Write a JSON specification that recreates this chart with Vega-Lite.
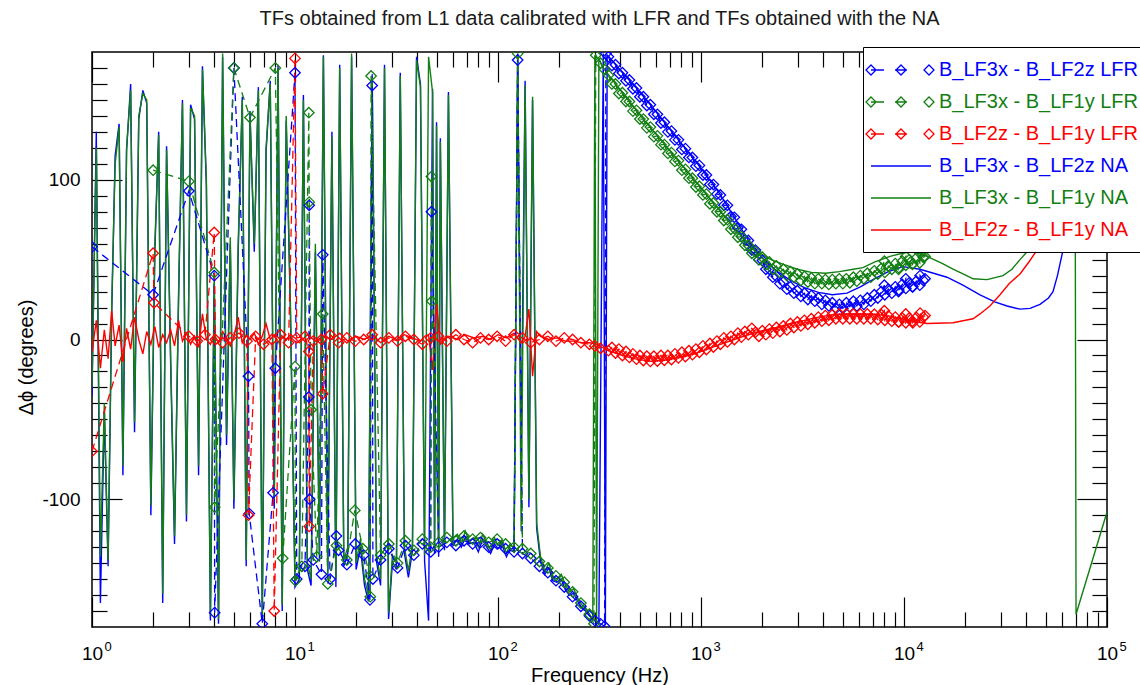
{
"$schema": "https://vega.github.io/schema/vega-lite/v6.json",
"width": 1015,
"height": 575,
"autosize": {"type": "none"},
"padding": {"left": 92, "top": 52, "right": 33, "bottom": 58},
"background": "white",
"title": {"text": "TFs obtained from L1 data calibrated with LFR and TFs obtained with the NA", "font": "Liberation Sans", "fontSize": 20, "fontWeight": "normal", "color": "#1a1a1a", "anchor": "middle", "frame": "group", "offset": 18},
"data": {"values": [
{"s":"bN","f":1,"v":-35},{"s":"bN","f":1.05,"v":130},{"s":"bN","f":1.1,"v":-165},{"s":"bN","f":1.15,"v":-45},{"s":"bN","f":1.2,"v":-142},{"s":"bN","f":1.25,"v":15},{"s":"bN","f":1.3,"v":115},{"s":"bN","f":1.36,"v":135},{"s":"bN","f":1.42,"v":-85},{"s":"bN","f":1.48,"v":118},{"s":"bN","f":1.55,"v":160},{"s":"bN","f":1.62,"v":-58},{"s":"bN","f":1.7,"v":138},{"s":"bN","f":1.78,"v":156},{"s":"bN","f":1.86,"v":148},{"s":"bN","f":1.95,"v":-110},{"s":"bN","f":2.04,"v":55},{"s":"bN","f":2.13,"v":130},{"s":"bN","f":2.23,"v":-165},{"s":"bN","f":2.33,"v":121},{"s":"bN","f":2.44,"v":-15},{"s":"bN","f":2.55,"v":-128},{"s":"bN","f":2.67,"v":25},{"s":"bN","f":2.79,"v":150},{"s":"bN","f":2.92,"v":-114},{"s":"bN","f":3.06,"v":147},{"s":"bN","f":3.2,"v":138},{"s":"bN","f":3.35,"v":-85},{"s":"bN","f":3.5,"v":171},{"s":"bN","f":3.66,"v":96},{"s":"bN","f":3.83,"v":-176},{"s":"bN","f":4,"v":35},{"s":"bN","f":4.2,"v":-178},{"s":"bN","f":4.4,"v":177},{"s":"bN","f":4.6,"v":-66},{"s":"bN","f":4.8,"v":60},{"s":"bN","f":5,"v":-106},{"s":"bN","f":5.25,"v":55},{"s":"bN","f":5.5,"v":152},{"s":"bN","f":5.75,"v":-142},{"s":"bN","f":6,"v":143},{"s":"bN","f":6.3,"v":55},{"s":"bN","f":6.6,"v":158},{"s":"bN","f":6.9,"v":-176},{"s":"bN","f":7.2,"v":117},{"s":"bN","f":7.55,"v":162},{"s":"bN","f":7.9,"v":-106},{"s":"bN","f":8.25,"v":172},{"s":"bN","f":8.65,"v":-170},{"s":"bN","f":9.05,"v":137},{"s":"bN","f":9.5,"v":15},{"s":"bN","f":10,"v":-155},
{"s":"bN","f":10.5,"v":-150},{"s":"bN","f":11,"v":153},{"s":"bN","f":11.5,"v":-144},{"s":"bN","f":12,"v":-154},{"s":"bN","f":12.6,"v":55},{"s":"bN","f":13.2,"v":-139},{"s":"bN","f":13.8,"v":178},{"s":"bN","f":14.5,"v":-149},{"s":"bN","f":15.2,"v":130},{"s":"bN","f":15.9,"v":-155},{"s":"bN","f":16.6,"v":172},{"s":"bN","f":17.4,"v":-142},{"s":"bN","f":18.2,"v":-134},{"s":"bN","f":19,"v":177},{"s":"bN","f":20,"v":-144},{"s":"bN","f":21,"v":-130},{"s":"bN","f":22,"v":-154},{"s":"bN","f":23,"v":-164},{"s":"bN","f":24,"v":166},{"s":"bN","f":25.2,"v":-139},{"s":"bN","f":26.4,"v":-154},{"s":"bN","f":27.6,"v":172},{"s":"bN","f":28.9,"v":-175},{"s":"bN","f":30.2,"v":-139},{"s":"bN","f":31.6,"v":-144},{"s":"bN","f":33,"v":167},{"s":"bN","f":34.6,"v":-134},{"s":"bN","f":36.2,"v":-149},{"s":"bN","f":37.9,"v":-132},{"s":"bN","f":39.7,"v":177},{"s":"bN","f":41.5,"v":160},{"s":"bN","f":43.5,"v":-139},{"s":"bN","f":45.5,"v":-176},{"s":"bN","f":47.6,"v":157},{"s":"bN","f":48.7,"v":-134},{"s":"bN","f":49.8,"v":136},{"s":"bN","f":51,"v":-136},{"s":"bN","f":52,"v":126},{"s":"bN","f":54.5,"v":-132},{"s":"bN","f":57,"v":155},{"s":"bN","f":60,"v":-129},
{"s":"bN","f":63,"v":-125},{"s":"bN","f":66,"v":-130},{"s":"bN","f":69,"v":-124},{"s":"bN","f":72,"v":-128},{"s":"bN","f":76,"v":-127},{"s":"bN","f":80,"v":-133},{"s":"bN","f":84,"v":-125},{"s":"bN","f":88,"v":-130},{"s":"bN","f":92,"v":-134},{"s":"bN","f":96,"v":-128},{"s":"bN","f":100,"v":-131},{"s":"bN","f":105,"v":-129},{"s":"bN","f":110,"v":-136},{"s":"bN","f":115,"v":-131},{"s":"bN","f":120,"v":-133},{"s":"bN","f":125,"v":177},{"s":"bN","f":130,"v":-72},{"s":"bN","f":136,"v":162},{"s":"bN","f":142,"v":-105},{"s":"bN","f":148,"v":150},{"s":"bN","f":155,"v":-118},{"s":"bN","f":162,"v":-139},{"s":"bN","f":170,"v":-147},{"s":"bN","f":178,"v":-143},{"s":"bN","f":186,"v":-151},{"s":"bN","f":195,"v":-152},{"s":"bN","f":205,"v":-150},{"s":"bN","f":215,"v":-157},{"s":"bN","f":225,"v":-160},{"s":"bN","f":236,"v":-159},{"s":"bN","f":247,"v":-164},{"s":"bN","f":258,"v":-168},{"s":"bN","f":270,"v":-170},{"s":"bN","f":283,"v":-173},{"s":"bN","f":293,"v":-175},{"s":"bN","f":300,"v":-176},{"s":"bN","f":314,"v":-178},{"s":"bN","f":330,"v":179},{"s":"bN","f":338,"v":-179},{"s":"bN","f":345,"v":178},
{"s":"bN","f":352,"v":177},{"s":"bN","f":400,"v":168.5},{"s":"bN","f":480,"v":157.5},{"s":"bN","f":563,"v":147},{"s":"bN","f":660,"v":136},{"s":"bN","f":774,"v":125},{"s":"bN","f":907,"v":114},{"s":"bN","f":1063,"v":103},{"s":"bN","f":1246,"v":90.5},{"s":"bN","f":1460,"v":76.5},{"s":"bN","f":1711,"v":62},{"s":"bN","f":2006,"v":51},{"s":"bN","f":2351,"v":43},{"s":"bN","f":2755,"v":37},{"s":"bN","f":3229,"v":32.5},{"s":"bN","f":3785,"v":29.5},{"s":"bN","f":4436,"v":28},{"s":"bN","f":5238,"v":29},{"s":"bN","f":6093,"v":33},{"s":"bN","f":7141,"v":38},{"s":"bN","f":8370,"v":42.5},{"s":"bN","f":9886,"v":45.6},{"s":"bN","f":11990,"v":44},{"s":"bN","f":16283,"v":39},{"s":"bN","f":19500,"v":34},{"s":"bN","f":23679,"v":28},{"s":"bN","f":28000,"v":23.5},{"s":"bN","f":32175,"v":21},{"s":"bN","f":37273,"v":19},{"s":"bN","f":41760,"v":19.5},{"s":"bN","f":46774,"v":22},{"s":"bN","f":51500,"v":26},{"s":"bN","f":54200,"v":30},{"s":"bN","f":57000,"v":40},{"s":"bN","f":60730,"v":56},{"s":"bN","f":66000,"v":85},{"s":"bN","f":73600,"v":120},{"s":"bN","f":85000,"v":155},{"s":"bN","f":100000,"v":175},
{"s":"gN","f":1,"v":-30},{"s":"gN","f":1.05,"v":120},{"s":"gN","f":1.1,"v":-136},{"s":"gN","f":1.15,"v":-40},{"s":"gN","f":1.2,"v":-138},{"s":"gN","f":1.25,"v":20},{"s":"gN","f":1.3,"v":110},{"s":"gN","f":1.36,"v":133},{"s":"gN","f":1.42,"v":-79},{"s":"gN","f":1.48,"v":120},{"s":"gN","f":1.55,"v":156},{"s":"gN","f":1.62,"v":-52},{"s":"gN","f":1.7,"v":140},{"s":"gN","f":1.78,"v":154},{"s":"gN","f":1.86,"v":150},{"s":"gN","f":1.95,"v":-104},{"s":"gN","f":2.04,"v":60},{"s":"gN","f":2.13,"v":128},{"s":"gN","f":2.23,"v":-159},{"s":"gN","f":2.33,"v":119},{"s":"gN","f":2.44,"v":-10},{"s":"gN","f":2.55,"v":-123},{"s":"gN","f":2.67,"v":30},{"s":"gN","f":2.79,"v":148},{"s":"gN","f":2.92,"v":-110},{"s":"gN","f":3.06,"v":145},{"s":"gN","f":3.2,"v":140},{"s":"gN","f":3.35,"v":-79},{"s":"gN","f":3.5,"v":169},{"s":"gN","f":3.66,"v":100},{"s":"gN","f":3.83,"v":-173},{"s":"gN","f":4,"v":40},{"s":"gN","f":4.2,"v":-175},{"s":"gN","f":4.4,"v":179},{"s":"gN","f":4.6,"v":-60},{"s":"gN","f":4.8,"v":64},{"s":"gN","f":5,"v":-100},{"s":"gN","f":5.25,"v":60},{"s":"gN","f":5.5,"v":150},{"s":"gN","f":5.75,"v":-138},{"s":"gN","f":6,"v":140},{"s":"gN","f":6.3,"v":60},{"s":"gN","f":6.6,"v":156},{"s":"gN","f":6.9,"v":-173},{"s":"gN","f":7.2,"v":120},{"s":"gN","f":7.55,"v":160},{"s":"gN","f":7.9,"v":-100},{"s":"gN","f":8.25,"v":170},{"s":"gN","f":8.65,"v":-166},{"s":"gN","f":9.05,"v":140},{"s":"gN","f":9.5,"v":20},{"s":"gN","f":10,"v":-150},
{"s":"gN","f":10.5,"v":-145},{"s":"gN","f":11,"v":150},{"s":"gN","f":11.5,"v":-140},{"s":"gN","f":12,"v":-150},{"s":"gN","f":12.6,"v":60},{"s":"gN","f":13.2,"v":-135},{"s":"gN","f":13.8,"v":177},{"s":"gN","f":14.5,"v":-145},{"s":"gN","f":15.2,"v":127},{"s":"gN","f":15.9,"v":-150},{"s":"gN","f":16.6,"v":170},{"s":"gN","f":17.4,"v":-138},{"s":"gN","f":18.2,"v":-130},{"s":"gN","f":19,"v":179},{"s":"gN","f":20,"v":-140},{"s":"gN","f":21,"v":-125},{"s":"gN","f":22,"v":-150},{"s":"gN","f":23,"v":-160},{"s":"gN","f":24,"v":164},{"s":"gN","f":25.2,"v":-135},{"s":"gN","f":26.4,"v":-150},{"s":"gN","f":27.6,"v":170},{"s":"gN","f":28.9,"v":-171},{"s":"gN","f":30.2,"v":-135},{"s":"gN","f":31.6,"v":-140},{"s":"gN","f":33,"v":165},{"s":"gN","f":34.6,"v":-130},{"s":"gN","f":36.2,"v":-145},{"s":"gN","f":37.9,"v":-128},{"s":"gN","f":39.7,"v":175},{"s":"gN","f":41.5,"v":158},{"s":"gN","f":43.5,"v":-135},{"s":"gN","f":45.5,"v":177},{"s":"gN","f":47.6,"v":155},{"s":"gN","f":48.7,"v":-130},{"s":"gN","f":49.8,"v":134},{"s":"gN","f":51,"v":-132},{"s":"gN","f":52,"v":124},{"s":"gN","f":54.5,"v":-128},{"s":"gN","f":57,"v":153},{"s":"gN","f":60,"v":-125},
{"s":"gN","f":63,"v":-122},{"s":"gN","f":66,"v":-128},{"s":"gN","f":69,"v":-120},{"s":"gN","f":72,"v":-126},{"s":"gN","f":76,"v":-124},{"s":"gN","f":80,"v":-130},{"s":"gN","f":84,"v":-122},{"s":"gN","f":88,"v":-127},{"s":"gN","f":92,"v":-132},{"s":"gN","f":96,"v":-124},{"s":"gN","f":100,"v":-129},{"s":"gN","f":105,"v":-126},{"s":"gN","f":110,"v":-134},{"s":"gN","f":115,"v":-128},{"s":"gN","f":120,"v":-131},{"s":"gN","f":125,"v":179},{"s":"gN","f":130,"v":-120},{"s":"gN","f":136,"v":159},{"s":"gN","f":142,"v":-100},{"s":"gN","f":148,"v":152},{"s":"gN","f":155,"v":-115},{"s":"gN","f":162,"v":-136},{"s":"gN","f":170,"v":-145},{"s":"gN","f":178,"v":-140},{"s":"gN","f":186,"v":-148},{"s":"gN","f":195,"v":-150},{"s":"gN","f":205,"v":-147},{"s":"gN","f":215,"v":-154},{"s":"gN","f":225,"v":-158},{"s":"gN","f":236,"v":-156},{"s":"gN","f":247,"v":-162},{"s":"gN","f":258,"v":-166},{"s":"gN","f":270,"v":-168},{"s":"gN","f":283,"v":-172},{"s":"gN","f":293,"v":-176},{"s":"gN","f":300,"v":178},{"s":"gN","f":306,"v":-178},{"s":"gN","f":314,"v":176},{"s":"gN","f":330,"v":170},
{"s":"gN","f":379,"v":160},{"s":"gN","f":444,"v":149},{"s":"gN","f":520,"v":138},{"s":"gN","f":610,"v":127.5},{"s":"gN","f":715,"v":117},{"s":"gN","f":838,"v":106.5},{"s":"gN","f":982,"v":96},{"s":"gN","f":1151,"v":85.5},{"s":"gN","f":1349,"v":75},{"s":"gN","f":1581,"v":64.5},{"s":"gN","f":1853,"v":56},{"s":"gN","f":2171,"v":50.5},{"s":"gN","f":2545,"v":47},{"s":"gN","f":2983,"v":44},{"s":"gN","f":3496,"v":42},{"s":"gN","f":4097,"v":41.5},{"s":"gN","f":4802,"v":42.5},{"s":"gN","f":5628,"v":44},{"s":"gN","f":6281,"v":45},{"s":"gN","f":7141,"v":48.5},{"s":"gN","f":8531,"v":52},{"s":"gN","f":9809,"v":54},{"s":"gN","f":11075,"v":55},{"s":"gN","f":12985,"v":52},{"s":"gN","f":15500,"v":47.5},{"s":"gN","f":17432,"v":44},{"s":"gN","f":20000,"v":40.5},{"s":"gN","f":21876,"v":38},{"s":"gN","f":25633,"v":37.5},{"s":"gN","f":30748,"v":40},{"s":"gN","f":34000,"v":44},{"s":"gN","f":37273,"v":50},{"s":"gN","f":41760,"v":57},{"s":"gN","f":48000,"v":80},{"s":"gN","f":57000,"v":112},{"s":"gN","f":64000,"v":145},{"s":"gN","f":69500,"v":178},{"s":"gN","f":70400,"v":-172},{"s":"gN","f":100000,"v":-108},
{"s":"rN","f":1,"v":-8},{"s":"rN","f":1.05,"v":12},{"s":"rN","f":1.1,"v":-18},{"s":"rN","f":1.15,"v":6},{"s":"rN","f":1.2,"v":-12},{"s":"rN","f":1.25,"v":18},{"s":"rN","f":1.3,"v":-4},{"s":"rN","f":1.36,"v":9},{"s":"rN","f":1.42,"v":-14},{"s":"rN","f":1.48,"v":7},{"s":"rN","f":1.55,"v":-6},{"s":"rN","f":1.62,"v":14},{"s":"rN","f":1.7,"v":0},{"s":"rN","f":1.78,"v":-9},{"s":"rN","f":1.86,"v":5},{"s":"rN","f":1.95,"v":-3},{"s":"rN","f":2.04,"v":8},{"s":"rN","f":2.13,"v":-5},{"s":"rN","f":2.23,"v":3},{"s":"rN","f":2.33,"v":-2},{"s":"rN","f":2.44,"v":6},{"s":"rN","f":2.55,"v":-4},{"s":"rN","f":2.67,"v":12},{"s":"rN","f":2.79,"v":-1},{"s":"rN","f":2.92,"v":4},{"s":"rN","f":3.06,"v":-3},{"s":"rN","f":3.2,"v":2},{"s":"rN","f":3.35,"v":-5},{"s":"rN","f":3.5,"v":16},{"s":"rN","f":3.66,"v":0},{"s":"rN","f":3.83,"v":-3},{"s":"rN","f":4,"v":3},{"s":"rN","f":4.2,"v":-2},{"s":"rN","f":4.4,"v":5},{"s":"rN","f":4.6,"v":1},{"s":"rN","f":4.8,"v":-4},{"s":"rN","f":5,"v":2},{"s":"rN","f":5.25,"v":14},{"s":"rN","f":5.5,"v":-2},{"s":"rN","f":5.75,"v":3},{"s":"rN","f":6,"v":0},{"s":"rN","f":6.3,"v":4},{"s":"rN","f":6.6,"v":-3},{"s":"rN","f":6.9,"v":2},{"s":"rN","f":7.2,"v":10},{"s":"rN","f":7.55,"v":0},{"s":"rN","f":7.9,"v":3},{"s":"rN","f":8.25,"v":-2},{"s":"rN","f":8.65,"v":2},{"s":"rN","f":9.05,"v":0},{"s":"rN","f":9.5,"v":3},{"s":"rN","f":10,"v":1},
{"s":"rN","f":10.5,"v":-2},{"s":"rN","f":11.5,"v":3},{"s":"rN","f":12.6,"v":-1},{"s":"rN","f":13.8,"v":2},{"s":"rN","f":15.2,"v":0},{"s":"rN","f":16.6,"v":4},{"s":"rN","f":18.2,"v":-1},{"s":"rN","f":20,"v":2},{"s":"rN","f":22,"v":0},{"s":"rN","f":24,"v":3},{"s":"rN","f":26.4,"v":-2},{"s":"rN","f":28.9,"v":2},{"s":"rN","f":31.6,"v":0},{"s":"rN","f":34.6,"v":3},{"s":"rN","f":37.9,"v":1},{"s":"rN","f":41.5,"v":-1},{"s":"rN","f":43.5,"v":2},{"s":"rN","f":45.5,"v":3},{"s":"rN","f":47.6,"v":-19},{"s":"rN","f":49.8,"v":22},{"s":"rN","f":52,"v":-3},{"s":"rN","f":57,"v":2},{"s":"rN","f":63,"v":0},{"s":"rN","f":69,"v":3},{"s":"rN","f":76,"v":1},{"s":"rN","f":84,"v":2},{"s":"rN","f":92,"v":0},{"s":"rN","f":100,"v":3},{"s":"rN","f":110,"v":1},{"s":"rN","f":120,"v":4},{"s":"rN","f":130,"v":-2},{"s":"rN","f":136,"v":2},{"s":"rN","f":142,"v":19},{"s":"rN","f":148,"v":-23},{"s":"rN","f":155,"v":5},{"s":"rN","f":162,"v":2},{"s":"rN","f":178,"v":0},{"s":"rN","f":195,"v":1},{"s":"rN","f":215,"v":-1},{"s":"rN","f":236,"v":-1},{"s":"rN","f":258,"v":-2},{"s":"rN","f":283,"v":-2},
{"s":"rN","f":300,"v":-2.5},{"s":"rN","f":350,"v":-7},{"s":"rN","f":410,"v":-10},{"s":"rN","f":481,"v":-12.3},{"s":"rN","f":563,"v":-13.7},{"s":"rN","f":660,"v":-13},{"s":"rN","f":774,"v":-11.5},{"s":"rN","f":907,"v":-9.5},{"s":"rN","f":1063,"v":-6.3},{"s":"rN","f":1246,"v":-3},{"s":"rN","f":1460,"v":0},{"s":"rN","f":1711,"v":3},{"s":"rN","f":2006,"v":5.5},{"s":"rN","f":2351,"v":7.5},{"s":"rN","f":2755,"v":10},{"s":"rN","f":3229,"v":12},{"s":"rN","f":3785,"v":14},{"s":"rN","f":4436,"v":15.5},{"s":"rN","f":5199,"v":16},{"s":"rN","f":6093,"v":16},{"s":"rN","f":7141,"v":15.8},{"s":"rN","f":8370,"v":14.8},{"s":"rN","f":9809,"v":13},{"s":"rN","f":11496,"v":11},{"s":"rN","f":12985,"v":10},{"s":"rN","f":17432,"v":10.5},{"s":"rN","f":21876,"v":13},{"s":"rN","f":23679,"v":16},{"s":"rN","f":26500,"v":21},{"s":"rN","f":29717,"v":28},{"s":"rN","f":33000,"v":35},{"s":"rN","f":37273,"v":41},{"s":"rN","f":41500,"v":49},{"s":"rN","f":45204,"v":56},{"s":"rN","f":50640,"v":64},{"s":"rN","f":58000,"v":85},{"s":"rN","f":73600,"v":120},{"s":"rN","f":100000,"v":150},
{"s":"bL","f":1,"v":58},{"s":"bL","f":2,"v":28},{"s":"bL","f":3,"v":93},{"s":"bL","f":4,"v":40},{"s":"bL","f":4.02,"v":-171},{"s":"bL","f":5,"v":170},{"s":"bL","f":5.9,"v":-23},{"s":"bL","f":5.95,"v":-109},{"s":"bL","f":6.9,"v":-178},{"s":"bL","f":7.8,"v":-96},{"s":"bL","f":8,"v":-18},{"s":"bL","f":10,"v":167},{"s":"bL","f":10.2,"v":-150},{"s":"bL","f":11.2,"v":-142},{"s":"bL","f":11.7,"v":-36},{"s":"bL","f":11.75,"v":84},{"s":"bL","f":11.8,"v":-100},{"s":"bL","f":12.3,"v":-138},{"s":"bL","f":13.5,"v":-147},{"s":"bL","f":13.7,"v":53},{"s":"bL","f":14.9,"v":-150},{"s":"bL","f":16,"v":-123},{"s":"bL","f":16.4,"v":-132},{"s":"bL","f":18,"v":-141},{"s":"bL","f":19.8,"v":-128},{"s":"bL","f":21.8,"v":-135},{"s":"bL","f":23.4,"v":-163},{"s":"bL","f":24,"v":159},{"s":"bL","f":24.2,"v":-150},{"s":"bL","f":26.4,"v":-138},{"s":"bL","f":29,"v":-131},{"s":"bL","f":32,"v":-143},{"s":"bL","f":35,"v":-129},{"s":"bL","f":38.5,"v":-135},{"s":"bL","f":42.4,"v":-128},{"s":"bL","f":46.6,"v":-133},{"s":"bL","f":47,"v":80},{"s":"bL","f":51,"v":-130},{"s":"bL","f":56,"v":-127},{"s":"bL","f":62,"v":-129},{"s":"bL","f":68,"v":-126},{"s":"bL","f":75,"v":-128},{"s":"bL","f":82,"v":-127},{"s":"bL","f":90,"v":-130},{"s":"bL","f":99,"v":-128},{"s":"bL","f":109,"v":-131},{"s":"bL","f":120,"v":-133},{"s":"bL","f":125,"v":175},{"s":"bL","f":132,"v":-134},{"s":"bL","f":145,"v":-137},{"s":"bL","f":160,"v":-142},{"s":"bL","f":176,"v":-146},{"s":"bL","f":193,"v":-151},{"s":"bL","f":212,"v":-155},{"s":"bL","f":233,"v":-161},{"s":"bL","f":256,"v":-167},{"s":"bL","f":282,"v":-173},{"s":"bL","f":300,"v":-176},{"s":"bL","f":320,"v":-178},{"s":"bL","f":335,"v":-179.5},{"s":"bL","f":340,"v":179},
{"s":"bL","f":350,"v":177},{"s":"bL","f":379,"v":172},{"s":"bL","f":410,"v":167},{"s":"bL","f":444,"v":162.5},{"s":"bL","f":481,"v":157.5},{"s":"bL","f":520,"v":152},{"s":"bL","f":563,"v":147},{"s":"bL","f":610,"v":141},{"s":"bL","f":660,"v":136},{"s":"bL","f":715,"v":130.5},{"s":"bL","f":774,"v":125},{"s":"bL","f":838,"v":119.5},{"s":"bL","f":907,"v":114},{"s":"bL","f":982,"v":109},{"s":"bL","f":1063,"v":103},{"s":"bL","f":1151,"v":97},{"s":"bL","f":1246,"v":90.5},{"s":"bL","f":1349,"v":84},{"s":"bL","f":1460,"v":76.5},{"s":"bL","f":1581,"v":69},{"s":"bL","f":1711,"v":62},{"s":"bL","f":1853,"v":56},{"s":"bL","f":2006,"v":49.5},{"s":"bL","f":2171,"v":44},{"s":"bL","f":2351,"v":39.5},{"s":"bL","f":2545,"v":36},{"s":"bL","f":2755,"v":33},{"s":"bL","f":2983,"v":30.5},{"s":"bL","f":3229,"v":29},{"s":"bL","f":3496,"v":27.5},{"s":"bL","f":3785,"v":26},{"s":"bL","f":4097,"v":24.5},{"s":"bL","f":4436,"v":23},{"s":"bL","f":4802,"v":22},{"s":"bL","f":5199,"v":23},{"s":"bL","f":5628,"v":24},{"s":"bL","f":6093,"v":24.5},{"s":"bL","f":6597,"v":26},{"s":"bL","f":7141,"v":28},{"s":"bL","f":7731,"v":30},{"s":"bL","f":8000,"v":34},{"s":"bL","f":8370,"v":31.5},{"s":"bL","f":9061,"v":33},{"s":"bL","f":9400,"v":30},{"s":"bL","f":9809,"v":34.5},{"s":"bL","f":10200,"v":38},{"s":"bL","f":10619,"v":35.5},{"s":"bL","f":11000,"v":33},{"s":"bL","f":11496,"v":36.5},{"s":"bL","f":12000,"v":40},{"s":"bL","f":12446,"v":37},{"s":"bL","f":12700,"v":38},
{"s":"bL","f":364,"v":171.5},{"s":"bL","f":394,"v":166.5},{"s":"bL","f":427,"v":162},{"s":"bL","f":462,"v":157},{"s":"bL","f":500,"v":152},{"s":"bL","f":541,"v":146.5},{"s":"bL","f":586,"v":141},{"s":"bL","f":635,"v":135.5},{"s":"bL","f":687,"v":130},{"s":"bL","f":744,"v":125},{"s":"bL","f":805,"v":119},{"s":"bL","f":872,"v":114},{"s":"bL","f":944,"v":108.5},{"s":"bL","f":1022,"v":103},{"s":"bL","f":1106,"v":97},{"s":"bL","f":1198,"v":91},{"s":"bL","f":1296,"v":84},{"s":"bL","f":1404,"v":77},{"s":"bL","f":1519,"v":70},{"s":"bL","f":1645,"v":62.5},{"s":"bL","f":1780,"v":56},{"s":"bL","f":1928,"v":50},{"s":"bL","f":2087,"v":44},{"s":"bL","f":2259,"v":39},{"s":"bL","f":2446,"v":35},{"s":"bL","f":2648,"v":31.5},{"s":"bL","f":2867,"v":29},{"s":"bL","f":3104,"v":27},{"s":"bL","f":3360,"v":25},{"s":"bL","f":3637,"v":24},{"s":"bL","f":3938,"v":22},{"s":"bL","f":4263,"v":21},{"s":"bL","f":4616,"v":19.5},{"s":"bL","f":4997,"v":19.5},{"s":"bL","f":5410,"v":20.5},{"s":"bL","f":5856,"v":21},{"s":"bL","f":6340,"v":22},{"s":"bL","f":6864,"v":24},{"s":"bL","f":7430,"v":26},{"s":"bL","f":8044,"v":28},{"s":"bL","f":8709,"v":29},{"s":"bL","f":9428,"v":31},{"s":"bL","f":10206,"v":32},{"s":"bL","f":11049,"v":33},{"s":"bL","f":11962,"v":34},
{"s":"gL","f":2,"v":106},{"s":"gL","f":3,"v":99},{"s":"gL","f":4,"v":42},{"s":"gL","f":4.02,"v":-105},{"s":"gL","f":5,"v":170},{"s":"gL","f":6,"v":139},{"s":"gL","f":8,"v":170},{"s":"gL","f":8.7,"v":-137},{"s":"gL","f":10,"v":-17},{"s":"gL","f":10.05,"v":-151},{"s":"gL","f":10.8,"v":-142},{"s":"gL","f":11.7,"v":142},{"s":"gL","f":11.75,"v":86},{"s":"gL","f":12,"v":-44},{"s":"gL","f":12.8,"v":-136},{"s":"gL","f":13.7,"v":16},{"s":"gL","f":14.5,"v":-153},{"s":"gL","f":16,"v":-129},{"s":"gL","f":18,"v":-138},{"s":"gL","f":19.7,"v":-107},{"s":"gL","f":21.6,"v":-131},{"s":"gL","f":23.4,"v":-148},{"s":"gL","f":23.5,"v":-161},{"s":"gL","f":23.7,"v":165},{"s":"gL","f":26.4,"v":-135},{"s":"gL","f":29,"v":-128},{"s":"gL","f":32,"v":-140},{"s":"gL","f":35,"v":-126},{"s":"gL","f":38.5,"v":-132},{"s":"gL","f":42.4,"v":-125},{"s":"gL","f":46.6,"v":-130},{"s":"gL","f":47,"v":102},{"s":"gL","f":47.2,"v":24},{"s":"gL","f":51,"v":-127},{"s":"gL","f":56,"v":-124},{"s":"gL","f":62,"v":-126},{"s":"gL","f":68,"v":-123},{"s":"gL","f":75,"v":-125},{"s":"gL","f":82,"v":-124},{"s":"gL","f":90,"v":-127},{"s":"gL","f":99,"v":-125},{"s":"gL","f":109,"v":-128},{"s":"gL","f":120,"v":-130},{"s":"gL","f":125,"v":179},{"s":"gL","f":132,"v":-131},{"s":"gL","f":145,"v":-134},{"s":"gL","f":160,"v":-139},{"s":"gL","f":176,"v":-143},{"s":"gL","f":193,"v":-148},{"s":"gL","f":212,"v":-152},{"s":"gL","f":233,"v":-158},{"s":"gL","f":256,"v":-165},{"s":"gL","f":282,"v":-172},{"s":"gL","f":297,"v":-178},{"s":"gL","f":303,"v":178},{"s":"gL","f":320,"v":173},{"s":"gL","f":335,"v":169},
{"s":"gL","f":350,"v":165.5},{"s":"gL","f":379,"v":160},{"s":"gL","f":410,"v":154.5},{"s":"gL","f":444,"v":149},{"s":"gL","f":481,"v":143.5},{"s":"gL","f":520,"v":138},{"s":"gL","f":563,"v":133},{"s":"gL","f":610,"v":127.5},{"s":"gL","f":660,"v":122},{"s":"gL","f":715,"v":117},{"s":"gL","f":774,"v":112},{"s":"gL","f":838,"v":106.5},{"s":"gL","f":907,"v":101},{"s":"gL","f":982,"v":96},{"s":"gL","f":1063,"v":91},{"s":"gL","f":1151,"v":85.5},{"s":"gL","f":1246,"v":80},{"s":"gL","f":1349,"v":75},{"s":"gL","f":1460,"v":69.5},{"s":"gL","f":1581,"v":64.5},{"s":"gL","f":1711,"v":59},{"s":"gL","f":1853,"v":55},{"s":"gL","f":2006,"v":51.5},{"s":"gL","f":2171,"v":48.5},{"s":"gL","f":2351,"v":46},{"s":"gL","f":2545,"v":44},{"s":"gL","f":2755,"v":42.5},{"s":"gL","f":2983,"v":41},{"s":"gL","f":3229,"v":39.5},{"s":"gL","f":3496,"v":38.5},{"s":"gL","f":3785,"v":38},{"s":"gL","f":4097,"v":37.5},{"s":"gL","f":4436,"v":37.5},{"s":"gL","f":4802,"v":38},{"s":"gL","f":5199,"v":38},{"s":"gL","f":5628,"v":39},{"s":"gL","f":6093,"v":40},{"s":"gL","f":6597,"v":41.5},{"s":"gL","f":7141,"v":43},{"s":"gL","f":7731,"v":44.5},{"s":"gL","f":8000,"v":49},{"s":"gL","f":8370,"v":46},{"s":"gL","f":9061,"v":47.5},{"s":"gL","f":9400,"v":44},{"s":"gL","f":9809,"v":49},{"s":"gL","f":10200,"v":52},{"s":"gL","f":10619,"v":50},{"s":"gL","f":11000,"v":47},{"s":"gL","f":11496,"v":51},{"s":"gL","f":12000,"v":54},{"s":"gL","f":12446,"v":51.5},{"s":"gL","f":12700,"v":52},
{"s":"gL","f":364,"v":160},{"s":"gL","f":394,"v":154},{"s":"gL","f":427,"v":149},{"s":"gL","f":462,"v":143},{"s":"gL","f":500,"v":138},{"s":"gL","f":541,"v":132.5},{"s":"gL","f":586,"v":127},{"s":"gL","f":635,"v":122},{"s":"gL","f":687,"v":116.5},{"s":"gL","f":744,"v":111.5},{"s":"gL","f":805,"v":106},{"s":"gL","f":872,"v":101},{"s":"gL","f":944,"v":95.5},{"s":"gL","f":1022,"v":90.5},{"s":"gL","f":1106,"v":85},{"s":"gL","f":1198,"v":80},{"s":"gL","f":1296,"v":74.5},{"s":"gL","f":1404,"v":69},{"s":"gL","f":1519,"v":64},{"s":"gL","f":1645,"v":59},{"s":"gL","f":1780,"v":54},{"s":"gL","f":1928,"v":50},{"s":"gL","f":2087,"v":47},{"s":"gL","f":2259,"v":44},{"s":"gL","f":2446,"v":42},{"s":"gL","f":2648,"v":40},{"s":"gL","f":2867,"v":39},{"s":"gL","f":3104,"v":37},{"s":"gL","f":3360,"v":36},{"s":"gL","f":3637,"v":35},{"s":"gL","f":3938,"v":35},{"s":"gL","f":4263,"v":34.5},{"s":"gL","f":4616,"v":35},{"s":"gL","f":4997,"v":35},{"s":"gL","f":5410,"v":35.5},{"s":"gL","f":5856,"v":36.5},{"s":"gL","f":6340,"v":38},{"s":"gL","f":6864,"v":39},{"s":"gL","f":7430,"v":41},{"s":"gL","f":8044,"v":42},{"s":"gL","f":8709,"v":44},{"s":"gL","f":9428,"v":45},{"s":"gL","f":10206,"v":46.5},{"s":"gL","f":11049,"v":47.5},{"s":"gL","f":11962,"v":48},
{"s":"rL","f":1,"v":-70},{"s":"rL","f":2,"v":54},{"s":"rL","f":2.02,"v":23},{"s":"rL","f":3,"v":2},{"s":"rL","f":3.3,"v":-1},{"s":"rL","f":3.6,"v":3},{"s":"rL","f":4,"v":67},{"s":"rL","f":4.05,"v":0},{"s":"rL","f":4.4,"v":-2},{"s":"rL","f":4.8,"v":1},{"s":"rL","f":5.3,"v":4},{"s":"rL","f":5.8,"v":-1},{"s":"rL","f":5.9,"v":-110},{"s":"rL","f":6.4,"v":2},{"s":"rL","f":7,"v":-3},{"s":"rL","f":7.7,"v":0},{"s":"rL","f":7.9,"v":-170},{"s":"rL","f":8.5,"v":3},{"s":"rL","f":9.3,"v":-2},{"s":"rL","f":10,"v":176},{"s":"rL","f":10.2,"v":1},{"s":"rL","f":11.2,"v":2},{"s":"rL","f":11.7,"v":-7.5},{"s":"rL","f":11.75,"v":-117},{"s":"rL","f":12.3,"v":-1},{"s":"rL","f":13.5,"v":0},{"s":"rL","f":13.7,"v":-34},{"s":"rL","f":14.9,"v":3},{"s":"rL","f":16.4,"v":-2},{"s":"rL","f":18,"v":1},{"s":"rL","f":19.8,"v":-1},{"s":"rL","f":21.8,"v":0},{"s":"rL","f":24,"v":3},{"s":"rL","f":26.4,"v":-2},{"s":"rL","f":29,"v":1},{"s":"rL","f":32,"v":-1},{"s":"rL","f":35,"v":2},{"s":"rL","f":38.5,"v":0},{"s":"rL","f":42.4,"v":-3},{"s":"rL","f":46.6,"v":1},{"s":"rL","f":51,"v":2},{"s":"rL","f":56,"v":-1},{"s":"rL","f":62,"v":3},{"s":"rL","f":68,"v":0},{"s":"rL","f":75,"v":-2},{"s":"rL","f":82,"v":1},{"s":"rL","f":90,"v":0},{"s":"rL","f":99,"v":2},{"s":"rL","f":109,"v":-1},{"s":"rL","f":120,"v":3},{"s":"rL","f":132,"v":1},{"s":"rL","f":145,"v":-2},{"s":"rL","f":160,"v":0},{"s":"rL","f":176,"v":2},{"s":"rL","f":193,"v":-1},{"s":"rL","f":212,"v":1},{"s":"rL","f":233,"v":0},{"s":"rL","f":256,"v":-2},{"s":"rL","f":282,"v":-3},{"s":"rL","f":300,"v":-4},{"s":"rL","f":320,"v":-5.5},
{"s":"rL","f":350,"v":-7},{"s":"rL","f":379,"v":-8.5},{"s":"rL","f":410,"v":-10},{"s":"rL","f":444,"v":-11.2},{"s":"rL","f":481,"v":-12.3},{"s":"rL","f":520,"v":-13.2},{"s":"rL","f":563,"v":-13.7},{"s":"rL","f":610,"v":-13.5},{"s":"rL","f":660,"v":-13},{"s":"rL","f":715,"v":-12.5},{"s":"rL","f":774,"v":-11.5},{"s":"rL","f":838,"v":-10.7},{"s":"rL","f":907,"v":-9.5},{"s":"rL","f":982,"v":-8},{"s":"rL","f":1063,"v":-6.3},{"s":"rL","f":1151,"v":-4.7},{"s":"rL","f":1246,"v":-3},{"s":"rL","f":1349,"v":-1.5},{"s":"rL","f":1460,"v":0},{"s":"rL","f":1581,"v":1.5},{"s":"rL","f":1711,"v":3},{"s":"rL","f":1853,"v":4.5},{"s":"rL","f":2006,"v":5.5},{"s":"rL","f":2171,"v":6.5},{"s":"rL","f":2351,"v":7.5},{"s":"rL","f":2545,"v":8.5},{"s":"rL","f":2755,"v":10},{"s":"rL","f":2983,"v":11},{"s":"rL","f":3229,"v":12},{"s":"rL","f":3496,"v":13},{"s":"rL","f":3785,"v":14},{"s":"rL","f":4097,"v":15},{"s":"rL","f":4436,"v":15.5},{"s":"rL","f":4802,"v":16},{"s":"rL","f":5199,"v":16},{"s":"rL","f":5628,"v":16},{"s":"rL","f":6093,"v":16},{"s":"rL","f":6597,"v":16},{"s":"rL","f":7141,"v":15.8},{"s":"rL","f":7731,"v":15.5},{"s":"rL","f":8000,"v":18},{"s":"rL","f":8370,"v":14.8},{"s":"rL","f":9061,"v":14},{"s":"rL","f":9400,"v":11},{"s":"rL","f":9809,"v":13.5},{"s":"rL","f":10200,"v":16},{"s":"rL","f":10619,"v":13.5},{"s":"rL","f":11000,"v":11.5},{"s":"rL","f":11496,"v":13.8},{"s":"rL","f":12000,"v":16.5},{"s":"rL","f":12446,"v":14},{"s":"rL","f":12700,"v":15},
{"s":"rL","f":364,"v":-5},{"s":"rL","f":394,"v":-6},{"s":"rL","f":427,"v":-7.5},{"s":"rL","f":462,"v":-9},{"s":"rL","f":500,"v":-10},{"s":"rL","f":541,"v":-10.5},{"s":"rL","f":586,"v":-10.5},{"s":"rL","f":635,"v":-10},{"s":"rL","f":687,"v":-10},{"s":"rL","f":744,"v":-9},{"s":"rL","f":805,"v":-8},{"s":"rL","f":872,"v":-7},{"s":"rL","f":944,"v":-6},{"s":"rL","f":1022,"v":-4},{"s":"rL","f":1106,"v":-2.5},{"s":"rL","f":1198,"v":-1},{"s":"rL","f":1296,"v":1},{"s":"rL","f":1404,"v":2},{"s":"rL","f":1519,"v":4},{"s":"rL","f":1645,"v":5},{"s":"rL","f":1780,"v":7},{"s":"rL","f":1928,"v":2},{"s":"rL","f":2087,"v":3},{"s":"rL","f":2259,"v":4},{"s":"rL","f":2446,"v":5},{"s":"rL","f":2648,"v":6},{"s":"rL","f":2867,"v":7.5},{"s":"rL","f":3104,"v":8.5},{"s":"rL","f":3360,"v":9.5},{"s":"rL","f":3637,"v":10.5},{"s":"rL","f":3938,"v":11.5},{"s":"rL","f":4263,"v":12},{"s":"rL","f":4616,"v":13},{"s":"rL","f":4997,"v":13},{"s":"rL","f":5410,"v":13},{"s":"rL","f":5856,"v":13},{"s":"rL","f":6340,"v":13},{"s":"rL","f":6864,"v":13},{"s":"rL","f":7430,"v":12.5},{"s":"rL","f":8044,"v":12},{"s":"rL","f":8709,"v":11.5},{"s":"rL","f":9428,"v":11},{"s":"rL","f":10206,"v":10.5},{"s":"rL","f":11049,"v":10.5},{"s":"rL","f":11962,"v":11}
]},
"layer": [
 {
  "encoding": {
   "x": {"field": "f", "type": "quantitative", "scale": {"type": "log", "domain": [1, 100000], "nice": false},
         "axis": {"orient": "bottom", "values": [1, 10, 100, 1000, 10000, 100000], "labelExpr": "'10'", "labelFlush": false, "labelFontSize": 19, "tickSize": -30, "labelPadding": 47, "title": "Frequency (Hz)", "titleFontSize": 20, "titlePadding": 2}},
   "y": {"field": "v", "type": "quantitative", "scale": {"domain": [-180, 180], "nice": false, "zero": false},
         "axis": {"orient": "left", "values": [-100, 0, 100], "labelExpr": "'' + datum.value", "labelFontSize": 19, "tickSize": -30, "labelPadding": 42, "title": "Δϕ (degrees)", "titleFontSize": 20, "titlePadding": 5, "titleY": 305}}
  },
  "layer": [
   {"transform": [{"filter": "datum.s == 'bN' || datum.s == 'gN' || datum.s == 'rN'"}],
    "mark": {"type": "line", "strokeWidth": 1.4, "clip": true},
    "encoding": {"stroke": {"field": "s", "type": "nominal", "scale": {"domain": ["bN", "gN", "rN", "bL", "gL", "rL"], "range": ["#0000ff", "#127f12", "#ff0000", "#0000ff", "#127f12", "#ff0000"]}, "legend": null}}},
   {"transform": [{"filter": "datum.s == 'bL' || datum.s == 'gL' || datum.s == 'rL'"}],
    "mark": {"type": "line", "strokeWidth": 1.3, "strokeDash": [8, 5], "clip": true},
    "encoding": {"stroke": {"field": "s", "type": "nominal", "scale": {"domain": ["bN", "gN", "rN", "bL", "gL", "rL"], "range": ["#0000ff", "#127f12", "#ff0000", "#0000ff", "#127f12", "#ff0000"]}, "legend": null}}},
   {"transform": [{"filter": "datum.s == 'bL' || datum.s == 'gL' || datum.s == 'rL'"}],
    "mark": {"type": "point", "shape": "diamond", "filled": false, "size": 110, "strokeWidth": 1.3, "opacity": 1, "clip": true},
    "encoding": {"stroke": {"field": "s", "type": "nominal", "scale": {"domain": ["bN", "gN", "rN", "bL", "gL", "rL"], "range": ["#0000ff", "#127f12", "#ff0000", "#0000ff", "#127f12", "#ff0000"]}, "legend": null}}},
   {"transform": [{"filter": "false"}],
    "mark": {"type": "point", "filled": false, "opacity": 1},
    "encoding": {
     "color": {"field": "s", "type": "nominal", "scale": {"domain": ["bL", "gL", "rL", "bN", "gN", "rN"], "range": ["#0000ff", "#127f12", "#ff0000", "#0000ff", "#127f12", "#ff0000"]},
       "legend": {"title": null, "orient": "none", "legendX": 771, "legendY": -5, "zindex": 1,
         "labelExpr": "datum.value == 'bL' ? 'B_LF3x - B_LF2z LFR' : datum.value == 'gL' ? 'B_LF3x - B_LF1y LFR' : datum.value == 'rL' ? 'B_LF2z - B_LF1y LFR' : datum.value == 'bN' ? 'B_LF3x - B_LF2z NA' : datum.value == 'gN' ? 'B_LF3x - B_LF1y NA' : 'B_LF2z - B_LF1y NA'",
         "labelColor": {"expr": "scale('color', datum.value)"},
         "labelFont": "Liberation Sans", "labelFontSize": 20, "labelLimit": 400, "labelOffset": 42,
         "symbolSize": 400, "symbolStrokeWidth": 1.3, "symbolOpacity": 1,
         "rowPadding": 11, "padding": 12, "strokeColor": "black", "fillColor": "white"}},
     "shape": {"field": "s", "type": "nominal", "scale": {"domain": ["bL", "gL", "rL", "bN", "gN", "rN"], "range": [
       "M-1.5,-0.5L-1,0L-1.5,0.5L-2,0ZM-1.5,0L-0.2,0M1.5,-0.5L2,0L1.5,0.5L1,0ZM0.9,0L2.1,0M4.3,-0.5L4.8,0L4.3,0.5L3.8,0Z",
       "M-1.5,-0.5L-1,0L-1.5,0.5L-2,0ZM-1.5,0L-0.2,0M1.5,-0.5L2,0L1.5,0.5L1,0ZM0.9,0L2.1,0M4.3,-0.5L4.8,0L4.3,0.5L3.8,0Z",
       "M-1.5,-0.5L-1,0L-1.5,0.5L-2,0ZM-1.5,0L-0.2,0M1.5,-0.5L2,0L1.5,0.5L1,0ZM0.9,0L2.1,0M4.3,-0.5L4.8,0L4.3,0.5L3.8,0Z",
       "M-1.5,0L4.5,0", "M-1.5,0L4.5,0", "M-1.5,0L4.5,0"]}}
    }}
  ]
 },
 {"transform": [{"filter": "false"}],
  "mark": {"type": "point", "opacity": 0},
  "encoding": {
   "x": {"field": "f", "type": "quantitative", "scale": {"type": "log", "domain": [1, 100000], "nice": false},
         "axis": {"orient": "bottom", "values": [1, 10, 100, 1000, 10000, 100000], "ticks": false, "labelFlush": false, "labelAlign": "left", "labelOffset": 12, "labelPadding": 13, "labelFontSize": 13, "labelExpr": "'' + round(log(datum.value) / LN10)", "title": null}},
   "y": {"field": "v", "type": "quantitative", "scale": {"domain": [-180, 180], "nice": false, "zero": false}, "axis": null}
  }},
 {"transform": [{"filter": "false"}],
  "mark": {"type": "point", "opacity": 0},
  "encoding": {
   "x": {"field": "f", "type": "quantitative", "scale": {"type": "log", "domain": [1, 100000], "nice": false},
         "axis": {"orient": "top", "values": [1, 10, 100, 1000, 10000, 100000], "labels": false, "tickSize": -30, "title": null}},
   "y": {"field": "v", "type": "quantitative", "scale": {"domain": [-180, 180], "nice": false, "zero": false},
         "axis": {"orient": "right", "values": [-100, 0, 100], "labels": false, "tickSize": -30, "title": null}}
  }},
 {"transform": [{"filter": "false"}],
  "mark": {"type": "point", "opacity": 0},
  "encoding": {
   "x": {"field": "f", "type": "quantitative", "scale": {"type": "log", "domain": [1, 100000], "nice": false},
         "axis": {"orient": "bottom", "values": [2,3,4,5,6,7,8,9,20,30,40,50,60,70,80,90,200,300,400,500,600,700,800,900,2000,3000,4000,5000,6000,7000,8000,9000,20000,30000,40000,50000,60000,70000,80000,90000], "labels": false, "tickSize": -15, "title": null}},
   "y": {"field": "v", "type": "quantitative", "scale": {"domain": [-180, 180], "nice": false, "zero": false},
         "axis": {"orient": "left", "values": [-170,-160,-150,-140,-130,-120,-110,-90,-80,-70,-60,-50,-40,-30,-20,-10,10,20,30,40,50,60,70,80,90,110,120,130,140,150,160,170], "labels": false, "tickSize": -15, "title": null}}
  }},
 {"transform": [{"filter": "false"}],
  "mark": {"type": "point", "opacity": 0},
  "encoding": {
   "x": {"field": "f", "type": "quantitative", "scale": {"type": "log", "domain": [1, 100000], "nice": false},
         "axis": {"orient": "top", "values": [2,3,4,5,6,7,8,9,20,30,40,50,60,70,80,90,200,300,400,500,600,700,800,900,2000,3000,4000,5000,6000,7000,8000,9000,20000,30000,40000,50000,60000,70000,80000,90000], "labels": false, "tickSize": -15, "title": null}},
   "y": {"field": "v", "type": "quantitative", "scale": {"domain": [-180, 180], "nice": false, "zero": false},
         "axis": {"orient": "right", "values": [-170,-160,-150,-140,-130,-120,-110,-90,-80,-70,-60,-50,-40,-30,-20,-10,10,20,30,40,50,60,70,80,90,110,120,130,140,150,160,170], "labels": false, "tickSize": -15, "title": null}}
  }}
],
"resolve": {"scale": {"x": "independent", "y": "independent"}},
"config": {
 "view": {"stroke": "black", "strokeWidth": 1.5},
 "axis": {"grid": false, "domain": false, "tickColor": "black", "tickWidth": 1.2, "labelColor": "black", "titleColor": "black", "labelFont": "Liberation Sans", "titleFont": "Liberation Sans", "titleFontWeight": "normal"},
 "legend": {"labelFont": "Liberation Sans"}
}
}
